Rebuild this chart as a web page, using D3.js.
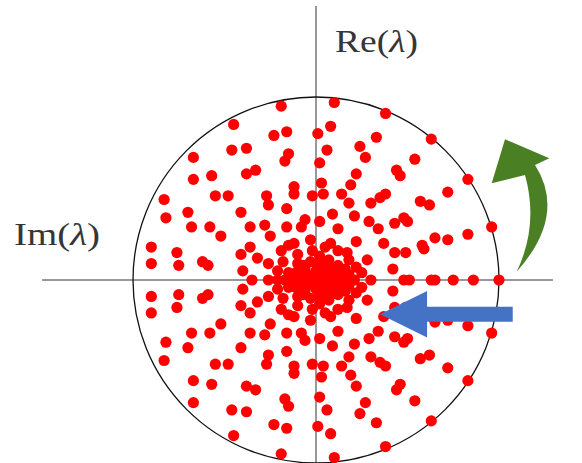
<!DOCTYPE html>
<html>
<head>
<meta charset="utf-8">
<script src="https://cdn.jsdelivr.net/npm/d3@7"></script>
<style>
    body { margin: 0; background: #fff; }
    svg { display: block; }
</style>
</head>
<body>
<script>
// Eigenvalues in units of the spectral radius: [horizontal, vertical]

// points lying on the horizontal axis
var axisDots = [
    [-0.35, 0], [-0.26, 0], [-0.21, 0], [-0.17, 0], [-0.13, 0], [-0.08, 0],
    [-0.04, 0], [0.00, 0], [0.04, 0], [0.07, 0], [0.12, 0], [0.16, 0],
    [0.21, 0], [0.30, 0], [0.48, 0], [0.51, 0], [0.63, 0], [0.65, 0],
    [0.75, 0], [0.86, 0], [1.00, 0]
];

// points above the horizontal axis
var upperDots = [
    [-0.19, 0.95], [-0.45, 0.85], [-0.23, 0.79], [-0.16, 0.81], [-0.46, 0.71],
    [-0.38, 0.72], [-0.67, 0.67], [-0.15, 0.69], [-0.17, 0.65], [-0.67, 0.55],
    [-0.57, 0.57], [-0.38, 0.58], [-0.33, 0.60], [-0.83, 0.44], [-0.55, 0.46],
    [-0.48, 0.46], [-0.12, 0.51], [-0.12, 0.47], [-0.27, 0.46], [-0.26, 0.41],
    [-0.02, 0.46], [-0.82, 0.34], [-0.70, 0.37], [-0.41, 0.37], [-0.16, 0.39],
    [-0.68, 0.29], [-0.58, 0.29], [-0.52, 0.24], [-0.36, 0.29], [-0.28, 0.30],
    [-0.16, 0.29], [-0.25, 0.24], [-0.08, 0.29], [-0.06, 0.33], [-0.90, 0.18],
    [-0.90, 0.09], [-0.76, 0.15], [-0.75, 0.08], [-0.62, 0.10], [-0.59, 0.08],
    [-0.36, 0.18], [-0.41, 0.14], [-0.32, 0.12], [-0.40, 0.05], [-0.26, 0.09],
    [-0.19, 0.16], [-0.15, 0.19], [-0.12, 0.20], [-0.18, 0.10], [-0.10, 0.14],
    [-0.10, 0.09], [-0.03, 0.22], [-0.21, 0.05], [-0.02, 0.16], [-0.07, 0.08],
    [-0.11, 0.04], [0.01, 0.80], [0.10, 0.97], [0.38, 0.91], [0.08, 0.84],
    [0.33, 0.78], [0.24, 0.73], [0.63, 0.77], [0.06, 0.71], [0.27, 0.67],
    [0.54, 0.66], [0.02, 0.64], [0.44, 0.60], [0.46, 0.57], [0.22, 0.58],
    [0.83, 0.55], [0.03, 0.53], [0.19, 0.52], [0.04, 0.47], [0.14, 0.47],
    [0.38, 0.47], [0.35, 0.45], [0.30, 0.42], [0.18, 0.42], [0.57, 0.43],
    [0.62, 0.41], [0.72, 0.48], [0.09, 0.36], [0.21, 0.35], [0.02, 0.32],
    [0.29, 0.32], [0.34, 0.28], [0.43, 0.31], [0.48, 0.34], [0.50, 0.32],
    [0.12, 0.28], [0.96, 0.29], [0.83, 0.25], [0.65, 0.23], [0.72, 0.22],
    [0.22, 0.21], [0.37, 0.20], [0.58, 0.19], [0.59, 0.17], [0.43, 0.15],
    [0.49, 0.15], [0.08, 0.20], [0.05, 0.18], [0.12, 0.16], [0.17, 0.15],
    [0.18, 0.11], [0.28, 0.11], [0.07, 0.11], [0.02, 0.13], [0.12, 0.08],
    [0.22, 0.07], [0.42, 0.06], [0.25, 0.04], [0.08, 0.07], [0.02, 0.09],
    [-0.05, 0.03], [0.02, 0.04], [0.09, 0.03], [0.14, 0.04], [-0.09, 0.02],
    [0.04, 0.06], [-0.03, 0.10], [0.11, 0.05], [-0.15, 0.04], [0.16, 0.06],
    [0.00, 0.05], [0.06, 0.02], [-0.02, 0.02], [0.10, 0.015], [0.03, 0.015],
    [-0.06, 0.06], [0.07, 0.045], [0.13, 0.02], [0.18, 0.03], [-0.12, 0.01]
];

// points below the horizontal axis (conjugate partners)
var lowerDots = [
    [-0.19, -0.95], [-0.45, -0.85], [-0.23, -0.79], [-0.16, -0.81], [-0.46, -0.71],
    [-0.38, -0.72], [-0.67, -0.67], [-0.15, -0.69], [-0.17, -0.65], [-0.67, -0.55],
    [-0.57, -0.57], [-0.38, -0.58], [-0.33, -0.60], [-0.83, -0.44], [-0.55, -0.46],
    [-0.48, -0.46], [-0.12, -0.51], [-0.12, -0.47], [-0.27, -0.46], [-0.26, -0.41],
    [-0.02, -0.46], [-0.82, -0.34], [-0.70, -0.37], [-0.41, -0.37], [-0.16, -0.39],
    [-0.68, -0.29], [-0.58, -0.29], [-0.52, -0.24], [-0.36, -0.29], [-0.28, -0.30],
    [-0.16, -0.29], [-0.25, -0.24], [-0.08, -0.29], [-0.06, -0.33], [-0.90, -0.18],
    [-0.90, -0.09], [-0.76, -0.15], [-0.75, -0.08], [-0.62, -0.10], [-0.59, -0.08],
    [-0.36, -0.18], [-0.41, -0.14], [-0.32, -0.12], [-0.40, -0.05], [-0.26, -0.09],
    [-0.19, -0.16], [-0.15, -0.19], [-0.12, -0.20], [-0.18, -0.10], [-0.10, -0.14],
    [-0.10, -0.09], [-0.03, -0.22], [-0.21, -0.05], [-0.02, -0.16], [-0.07, -0.08],
    [-0.11, -0.04], [0.01, -0.80], [0.10, -0.97], [0.38, -0.91], [0.08, -0.84],
    [0.33, -0.78], [0.24, -0.73], [0.63, -0.77], [0.06, -0.71], [0.27, -0.67],
    [0.54, -0.66], [0.02, -0.64], [0.44, -0.60], [0.46, -0.57], [0.22, -0.58],
    [0.83, -0.55], [0.03, -0.53], [0.19, -0.52], [0.04, -0.47], [0.14, -0.47],
    [0.38, -0.47], [0.35, -0.45], [0.30, -0.42], [0.18, -0.42], [0.57, -0.43],
    [0.62, -0.41], [0.72, -0.48], [0.09, -0.36], [0.21, -0.35], [0.02, -0.32],
    [0.29, -0.32], [0.34, -0.28], [0.43, -0.31], [0.48, -0.34], [0.50, -0.32],
    [0.12, -0.28], [0.96, -0.29], [0.83, -0.25], [0.65, -0.23], [0.72, -0.22],
    [0.22, -0.21], [0.37, -0.20], [0.58, -0.19], [0.59, -0.17], [0.43, -0.15],
    [0.49, -0.15], [0.08, -0.20], [0.05, -0.18], [0.12, -0.16], [0.17, -0.15],
    [0.18, -0.11], [0.28, -0.11], [0.07, -0.11], [0.02, -0.13], [0.12, -0.08],
    [0.22, -0.07], [0.42, -0.06], [0.25, -0.04], [0.08, -0.07], [0.02, -0.09],
    [-0.05, -0.03], [0.02, -0.04], [0.09, -0.03], [0.14, -0.04], [-0.09, -0.02],
    [0.04, -0.06], [-0.03, -0.10], [0.11, -0.05], [-0.15, -0.04], [0.16, -0.06],
    [0.00, -0.05], [0.06, -0.02], [-0.02, -0.02], [0.10, -0.015], [0.03, -0.015],
    [-0.06, -0.06], [0.07, -0.045], [0.13, -0.02], [0.18, -0.03], [-0.12, -0.01]
];

var axisLabels = ["Re", "Im"];

var width = 582,
    height = 463,
    cx = 316, cy = 280, radius = 183;

var x = d3.scaleLinear().domain([-1, 1]).range([cx - radius, cx + radius]);
var y = d3.scaleLinear().domain([-1, 1]).range([cy + radius, cy - radius]);

var svg = d3.select("body").append("svg")
    .attr("width", width)
    .attr("height", height);

// Axes lines
svg.append("line")
    .attr("x1", x(-1.497)).attr("x2", x(1.295))
    .attr("y1", y(0)).attr("y2", y(0))
    .attr("stroke", "#333").attr("stroke-width", 1);
svg.append("line")
    .attr("x1", x(0)).attr("x2", x(0))
    .attr("y1", y(1.497)).attr("y2", y(-1.1))
    .attr("stroke", "#333").attr("stroke-width", 1);

// Unit circle
svg.append("circle")
    .attr("cx", x(0)).attr("cy", y(0))
    .attr("r", x(1) - x(0))
    .attr("fill", "none")
    .attr("stroke", "#111")
    .attr("stroke-width", 1.3);

// Eigenvalue dots
var dots = axisDots.concat(upperDots, lowerDots);
svg.append("g").selectAll("circle")
    .data(dots)
    .enter().append("circle")
    .attr("cx", function(d) { return x(d[0]); })
    .attr("cy", function(d) { return y(d[1]); })
    .attr("r", 5.6)
    .attr("fill", "#ff0000");

// Labels
function addLabel(name, px, py, len) {
    var t = svg.append("text")
        .attr("x", px).attr("y", py)
        .attr("font-family", "'Liberation Serif', 'DejaVu Serif', serif")
        .attr("font-size", 31)
        .attr("fill", "#363636")
        .attr("textLength", len)
        .attr("lengthAdjust", "spacingAndGlyphs");
    t.append("tspan").text(name + "(");
    t.append("tspan").attr("font-style", "italic").text("λ");
    t.append("tspan").text(")");
}
addLabel(axisLabels[0], 335, 51.5, 83);
addLabel(axisLabels[1], 14, 245, 86);

// Blue arrow pointing inward along the axis
var bTip = x(0.35), bBase = x(0.607), bTail = x(1.075),
    bMid = y(-0.187), sh = 7.5, hh = 23.3;
svg.append("path")
    .attr("d", "M" + bTip + "," + bMid +
        "L" + bBase + "," + (bMid - hh) +
        "L" + bBase + "," + (bMid - sh) +
        "L" + bTail + "," + (bMid - sh) +
        "L" + bTail + "," + (bMid + sh) +
        "L" + bBase + "," + (bMid + sh) +
        "L" + bBase + "," + (bMid + hh) + "Z")
    .attr("fill", "#4472c4");

// Green curved arrow going round the circle
var gx = x(1), gy = y(0);
svg.append("path")
    .attr("transform", "translate(" + gx + "," + gy + ")")
    .attr("d", "M17.7,-8.3 Q68,-65 36,-115 L50.3,-121.7 L6,-140.7 " +
        "L-7.3,-96.7 L26,-105 Q40,-55 17.7,-8.3 Z")
    .attr("fill", "#4b7f23");
</script>
</body>
</html>
